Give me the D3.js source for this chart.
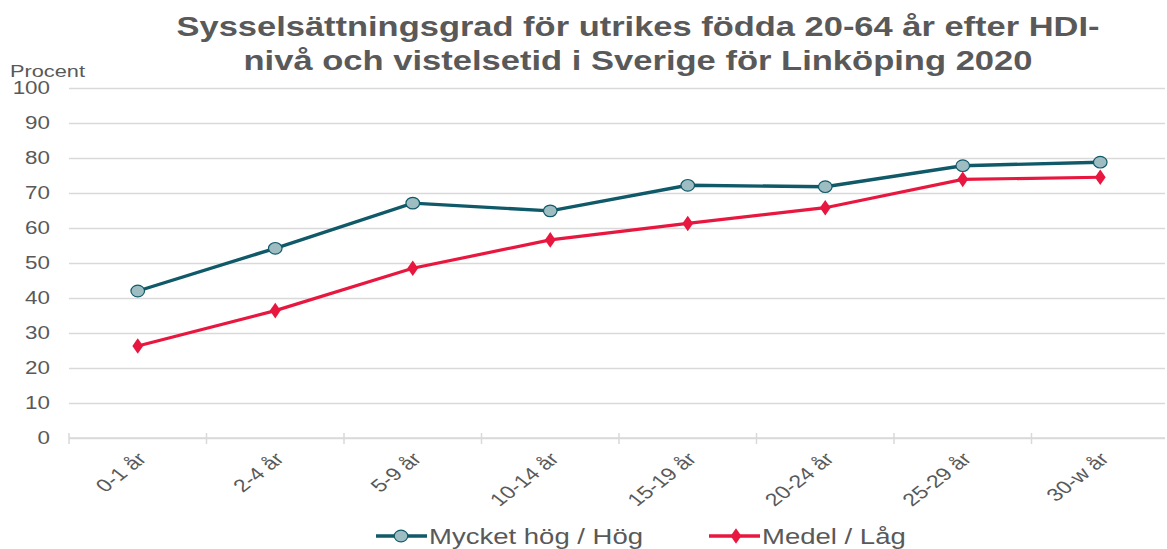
<!DOCTYPE html>
<html>
<head>
<meta charset="utf-8">
<script src="https://cdn.jsdelivr.net/npm/d3@7"></script>
<style>
  body { margin: 0; background: #fff; }
  text { font-family: "Liberation Sans", Arial, sans-serif; }
</style>
</head>
<body>
<div id="chart"></div>
<script>
// data
const categories = ["0-1 år", "2-4 år", "5-9 år", "10-14 år", "15-19 år", "20-24 år", "25-29 år", "30-w år"];
const hogValues = [42.0, 54.2, 67.1, 64.9, 72.2, 71.8, 77.8, 78.8];
const lagValues = [26.3, 36.4, 48.5, 56.6, 61.3, 65.8, 73.9, 74.5];
const yTicks = [0, 10, 20, 30, 40, 50, 60, 70, 80, 90, 100];
const seriesNames = ["Mycket hög / Hög", "Medel / Låg"];
const titleLines = ["Sysselsättningsgrad för utrikes födda 20-64 år efter HDI-", "nivå och vistelsetid i Sverige för Linköping 2020"];

const width = 1167, height = 549;
const textColor = "#595959";
const gridColor = "#d9d9d9";
const tealColor = "#0f5968";
const tealFill = "#9dbdc2";
const redColor = "#e8173f";
// the source picture is stretched sideways, text included
const sx = 1.28;

const svg = d3.select("#chart").append("svg")
    .attr("width", width)
    .attr("height", height);

// scales
const x = d3.scaleBand().domain(categories).range([69, 1169]);
const y = d3.scaleLinear().domain([0, 100]).range([438, 88]);

// title
const titleWidths = [923, 789];
svg.append("g").selectAll("text")
    .data(titleLines)
    .join("text")
    .attr("x", 638)
    .attr("y", (d, i) => 36 + i * 34)
    .attr("text-anchor", "middle")
    .attr("font-size", 27.5)
    .attr("font-weight", "bold")
    .attr("fill", textColor)
    .attr("textLength", (d, i) => titleWidths[i])
    .attr("lengthAdjust", "spacingAndGlyphs")
    .text(d => d);

// y axis label
svg.append("text")
    .attr("transform", `translate(10,77) scale(${sx},1)`)
    .attr("font-size", 17)
    .attr("fill", textColor)
    .text("Procent");

// gridlines
const yAxis = d3.axisLeft(y).tickValues(yTicks).tickSize(-(1165 - 69)).tickFormat("");
const gy = svg.append("g").attr("transform", "translate(69,0)").call(yAxis);
gy.select(".domain").remove();
gy.selectAll(".tick line").attr("stroke", gridColor).attr("stroke-width", 1.5);

// y labels
svg.append("g").selectAll("text")
    .data(yTicks)
    .join("text")
    .attr("transform", d => `translate(50,${y(d) + 6}) scale(${sx},1)`)
    .attr("text-anchor", "end")
    .attr("font-size", 17.5)
    .attr("fill", textColor)
    .text(d => d);

// x axis: boundary ticks across the zero line
const gx = svg.append("g").attr("transform", `translate(0,${y(0)})`);
gx.append("line")
    .attr("x1", 69).attr("x2", 1165)
    .attr("stroke", gridColor).attr("stroke-width", 1.5);
gx.selectAll(".bnd")
    .data(categories)
    .join("line")
    .attr("class", "bnd")
    .attr("x1", d => x(d)).attr("x2", d => x(d))
    .attr("y1", -5).attr("y2", 6)
    .attr("stroke", gridColor).attr("stroke-width", 1.5);
gx.selectAll(".lbl")
    .data(categories)
    .join("text")
    .attr("class", "lbl")
    .attr("text-anchor", "end")
    .attr("font-size", 18)
    .attr("fill", textColor)
    .attr("transform", d => `translate(${x(d) + x.bandwidth() / 2 + 10},${22}) scale(${sx},1) rotate(-45)`)
    .text(d => d);

const cx = d => x(d) + x.bandwidth() / 2;
const line = d3.line().x(d => cx(d.cat)).y(d => y(d.v));

const hogData = categories.map((c, i) => ({ cat: c, v: hogValues[i] }));
const lagData = categories.map((c, i) => ({ cat: c, v: lagValues[i] }));

// Medel / Låg (red, diamonds)
svg.append("path")
    .datum(lagData)
    .attr("fill", "none")
    .attr("stroke", redColor)
    .attr("stroke-width", 3.2)
    .attr("d", line);
const diamond = d3.symbol().type(d3.symbolDiamond).size(70);
svg.append("g").selectAll("path")
    .data(lagData)
    .join("path")
    .attr("d", diamond)
    .attr("transform", d => `translate(${cx(d.cat)},${y(d.v)}) scale(1.2,1)`)
    .attr("fill", redColor);

// Mycket hög / Hög (teal, circles)
svg.append("path")
    .datum(hogData)
    .attr("fill", "none")
    .attr("stroke", tealColor)
    .attr("stroke-width", 3.4)
    .attr("d", line);
svg.append("g").selectAll("ellipse")
    .data(hogData)
    .join("ellipse")
    .attr("cx", d => cx(d.cat))
    .attr("cy", d => y(d.v))
    .attr("rx", 6.8)
    .attr("ry", 5.8)
    .attr("fill", tealFill)
    .attr("stroke", tealColor)
    .attr("stroke-width", 1.2);

// legend
const legend = svg.append("g").attr("transform", "translate(0,536)");
const legItems = [
    { name: seriesNames[0], x: 376, color: tealColor, mark: "circle" },
    { name: seriesNames[1], x: 709, color: redColor, mark: "diamond" }
];
legItems.forEach(it => {
    const g = legend.append("g").attr("transform", `translate(${it.x},0)`);
    g.append("line").attr("x1", 0).attr("x2", 51).attr("stroke", it.color).attr("stroke-width", 3.4);
    if (it.mark === "circle") {
        g.append("ellipse").attr("cx", 25).attr("rx", 6.8).attr("ry", 5.8)
            .attr("fill", tealFill).attr("stroke", tealColor).attr("stroke-width", 1.2);
    } else {
        g.append("path").attr("d", diamond).attr("transform", "translate(27,0) scale(1.2,1)").attr("fill", redColor);
    }
    g.append("text")
        .attr("transform", `translate(53,8) scale(${sx},1)`)
        .attr("font-size", 21.5)
        .attr("fill", textColor)
        .text(it.name);
});
</script>
</body>
</html>
